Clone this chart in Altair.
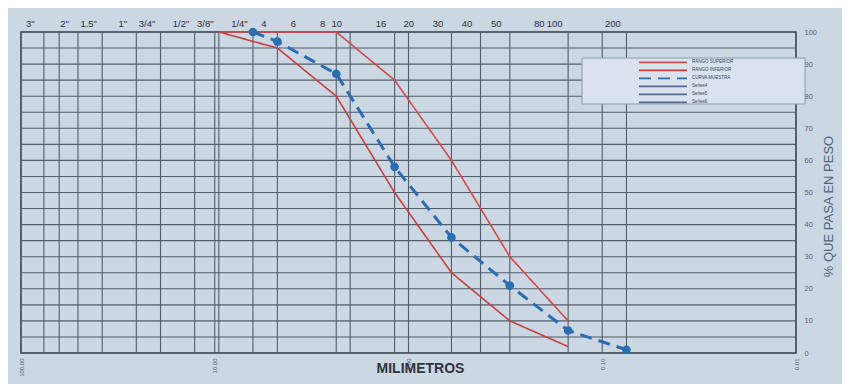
import altair as alt
import pandas as pd

# ---- data ----
sieve_names = ['3"', '2"', '1.5"', '1"', '3/4"', '1/2"', '3/8"', '1/4"', '4', '6', '8',
               '10', '16', '20', '30', '40', '50', '80', '100', '200']
sieve_mm = [76.2, 50.8, 38.1, 25.4, 19.05, 12.7, 9.525, 6.35, 4.75, 3.35, 2.36,
            2.0, 1.18, 0.85, 0.6, 0.425, 0.3, 0.18, 0.15, 0.075]
grid_mm = [76.2, 63.5, 50.8, 38.1, 25.4, 19.05, 12.7, 10.0, 9.525, 6.35, 4.75,
           2.36, 2.0, 1.18, 1.0, 0.6, 0.425, 0.3, 0.15, 0.1, 0.075]
decade_mm = [100, 10, 1, 0.1, 0.01]
pct_grid = list(range(0, 101, 5))
pct_ticks = list(range(0, 101, 10))

band_mm = [9.525, 4.75, 2.36, 1.18, 0.6, 0.3, 0.15]
upper_pct = [100, 100, 100, 85, 60, 30, 10]
lower_pct = [100, 95, 80, 50, 25, 10, 2]
sample_mm = [6.35, 4.75, 2.36, 1.18, 0.6, 0.3, 0.15, 0.075]
sample_pct = [100, 97, 87, 58, 36, 21, 7, 1]

series_names = ["RANGO SUPERIOR", "RANGO INFERIOR", "CURVA MUESTRA", "Series4", "Series5", "Series6"]
series_colors = ["#d24b4b", "#c4403f", "#2b6db1", "#4d6a94", "#4d6a94", "#4d6a94"]
series_dash = [[1, 0], [1, 0], [12, 7], [1, 0], [1, 0], [1, 0]]

# ---- tables ----
bands = pd.DataFrame(
    {"mm": band_mm * 2,
     "pct": upper_pct + lower_pct,
     "series": [series_names[0]] * len(band_mm) + [series_names[1]] * len(band_mm)}
)
sample = pd.DataFrame({"mm": sample_mm, "pct": sample_pct, "series": series_names[2]})

label_expr = " : ".join(
    f"abs(datum.value - {v}) < 1e-6 ? '{n}'" for v, n in zip(sieve_mm, sieve_names)
) + " : ''"

BG = "#ccd7e4"
GRID = "#535c69"
FONT = "Liberation Sans"

xscale = alt.Scale(type="log", domain=[0.01, 100], reverse=True, nice=False)
yscale = alt.Scale(domain=[0, 100], nice=False, zero=False)
cscale = alt.Scale(domain=series_names, range=series_colors)
dscale = alt.Scale(domain=series_names, range=series_dash)

yaxis = alt.Axis(orient="right", values=pct_ticks, grid=False, ticks=False,
                 domain=False, labelFontSize=7.5, labelColor="#5b6472",
                 labelFont=FONT, labelPadding=8,
                 title="% QUE PASA EN PESO", titleAngle=270, titleX=32,
                 titleY=174, titleAlign="center", titleBaseline="middle",
                 titleFontSize=13, titleFontWeight="normal",
                 titleColor="#52647c", titleFont=FONT)


def Y():
    return alt.Y("pct:Q", scale=yscale, axis=yaxis)


legend = alt.Legend(
    title=None, orient="none", legendX=617, legendY=26.5, direction="vertical",
    symbolType="stroke", symbolSize=2300, symbolStrokeWidth=1.8,
    labelFontSize=4.5, labelColor="#33435e", labelFont=FONT, labelOffset=4,
    rowPadding=0, padding=0, clipHeight=7.6,
)

vgrid = alt.Chart(pd.DataFrame({"mm": grid_mm})).mark_rule(
    color=GRID, strokeWidth=1.1
).encode(
    x=alt.X("mm:Q", scale=xscale,
            axis=alt.Axis(orient="top", values=sieve_mm, labelExpr=label_expr,
                          title=None, grid=False, ticks=False, domain=False,
                          labelFontSize=9.5, labelColor="#2b303a", labelFont=FONT,
                          labelPadding=4, labelOffset=-14, labelAngle=0,
                          labelAlign="center", labelOverlap=False, labelFlush=False))
)

hgrid = alt.Chart(pd.DataFrame({"pct": pct_grid})).mark_rule(
    color=GRID, strokeWidth=1.1
).encode(y=Y())

red = alt.Chart(bands).mark_line(strokeWidth=1.6).encode(
    x=alt.X("mm:Q", scale=xscale,
            axis=alt.Axis(orient="bottom", values=decade_mm, format=".2f",
                          grid=False, ticks=False, domain=False, labelAngle=270,
                          labelAlign="right", labelBaseline="middle",
                          labelFontSize=6, labelColor="#555d68", labelFont=FONT,
                          labelPadding=5, labelFlush=False, labelOverlap=False,
                          title="MILIMETROS", titleX=399, titleY=15,
                          titleAlign="center", titleBaseline="middle",
                          titleFontSize=14, titleFontWeight="bold",
                          titleColor="#2d333d", titleFont=FONT)),
    y=Y(),
    color=alt.Color("series:N", scale=cscale, legend=legend),
    strokeDash=alt.StrokeDash("series:N", scale=dscale, legend=legend),
    detail="series:N",
)

blue = alt.Chart(sample).mark_line(strokeWidth=3).encode(
    x=alt.X("mm:Q", scale=xscale, axis=None),
    y=Y(),
    color=alt.Color("series:N", scale=cscale, legend=legend),
    strokeDash=alt.StrokeDash("series:N", scale=dscale, legend=legend),
)

dots = alt.Chart(sample).mark_circle(size=75, color="#2b6db1", opacity=1).encode(
    x=alt.X("mm:Q", scale=xscale, axis=None),
    y=Y(),
)

legend_box = alt.Chart(alt.Data(values=[{"box": 1}])).mark_rect(
    fill="#d9e2ed", stroke="#8f9aaa", strokeWidth=1
).encode(
    x=alt.value(561), x2=alt.value(784), y=alt.value(26), y2=alt.value(72)
)

chart = alt.layer(vgrid, hgrid, red, blue, dots, legend_box).resolve_axis(
    x="independent"
).properties(
    width=775, height=321,
    padding={"left": 13, "top": 24, "right": 46, "bottom": 31},
    autosize=alt.AutoSizeParams(type="none"),
    background=BG,
).configure_view(
    stroke="#3b4350", strokeWidth=1.6, fill=BG
)

chart.save("out.html", embed_options={"renderer": "svg", "actions": False})
